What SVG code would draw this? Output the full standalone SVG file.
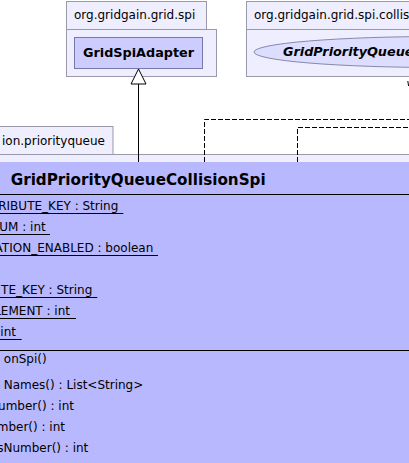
<svg xmlns="http://www.w3.org/2000/svg" width="409" height="463" viewBox="0 0 409 463">
<style>
  .pkg { fill: #eeeeff; stroke: #9999aa; stroke-width: 1; }
  .cls { fill: #ccccff; stroke: #7777aa; stroke-width: 1; }
  .main { fill: #b8b8ff; stroke: none; }
  .t { font-family: "DejaVu Sans", sans-serif; font-size: 12px; fill: #000; }
  .b { font-family: "DejaVu Sans", sans-serif; font-weight: bold; fill: #000; }
  .sep { stroke: #000; stroke-width: 1; }
  .ul { stroke: #000; stroke-width: 1; }
  .edge { stroke: #000; stroke-width: 1; fill: none; }
  .dash { stroke: #000; stroke-width: 1; fill: none; stroke-dasharray: 5,2; }
</style>
<rect x="0" y="0" width="409" height="463" fill="#ffffff"/>

<g id="pkg-org-gridgain-grid-spi">
  <rect class="pkg" x="66.5" y="1.5" width="140" height="28"/>
  <rect class="pkg" x="66.5" y="29.5" width="150" height="47"/>
  <text class="t" x="74" y="19">org.gridgain.grid.spi</text>
</g>

<g id="GridSpiAdapter">
  <rect class="cls" x="74.5" y="37.5" width="128" height="31"/>
  <text class="b" x="138.5" y="57" font-size="12.8" text-anchor="middle">GridSpiAdapter</text>
</g>

<g id="pkg-org-gridgain-grid-spi-collision">
  <rect class="pkg" x="246.5" y="1.5" width="200" height="28"/>
  <rect class="pkg" x="246.5" y="29.5" width="200" height="47"/>
  <text class="t" x="254" y="19">org.gridgain.grid.spi.collis</text>
</g>

<g id="GridPriorityQueueCollisionSpiMBean">
  <ellipse cx="440" cy="52" rx="186" ry="15.5" fill="#ddddff" stroke="#8888aa" stroke-width="1"/>
  <text class="b" x="283" y="56" font-size="12.8" font-style="italic">GridPriorityQueue</text>
</g>

<g id="pkg-org-gridgain-grid-spi-collision-priorityqueue">
  <rect class="pkg" x="-10" y="126.5" width="123" height="28"/>
  <rect class="pkg" x="-10" y="154.5" width="430" height="320"/>
  <text class="t" x="105" y="145" text-anchor="end">ion.priorityqueue</text>
</g>

<g id="connectors">
  <line class="edge" x1="138.5" y1="84" x2="138.5" y2="162"/>
  <polygon points="138.5,69 131,84 146,84" fill="#ffffff" stroke="#000" stroke-width="1"/>
  <polyline class="dash" points="204.5,162 204.5,119.5 409,119.5"/>
  <polyline class="dash" points="297.5,162 297.5,127.5 409,127.5"/>
  <line class="edge" x1="407.8" y1="81" x2="408.6" y2="86"/>
</g>

<g id="GridPriorityQueueCollisionSpi">
  <rect class="main" x="-10" y="162" width="430" height="310"/>
  <text class="b" x="10.7" y="185" font-size="15.2">GridPriorityQueueCollisionSpi</text>
  <line class="sep" x1="-10" y1="194.5" x2="420" y2="194.5"/>

  <text class="t" x="118.3" y="209.5" text-anchor="end">RIBUTE_KEY : String</text>
  <line class="ul" x1="-10" y1="213.5" x2="123.3" y2="213.5"/>
  <text class="t" x="45.7" y="230.5" text-anchor="end">UM : int</text>
  <line class="ul" x1="-10" y1="234.5" x2="50" y2="234.5"/>
  <text class="t" x="153.3" y="251.5" text-anchor="end">ATION_ENABLED : boolean</text>
  <line class="ul" x1="-10" y1="255.5" x2="158" y2="255.5"/>
  <text class="t" x="92.3" y="294.3" text-anchor="end">TE_KEY : String</text>
  <line class="ul" x1="-10" y1="297.5" x2="97.3" y2="297.5"/>
  <text class="t" x="70" y="315.3" text-anchor="end">LEMENT : int</text>
  <line class="ul" x1="-10" y1="318.5" x2="76" y2="318.5"/>
  <text class="t" x="16" y="336.3" text-anchor="end">int</text>
  <line class="ul" x1="-10" y1="339.5" x2="21.7" y2="339.5"/>

  <line class="sep" x1="-10" y1="350.5" x2="420" y2="350.5"/>

  <text class="t" x="46.7" y="362.7" text-anchor="end">onSpi()</text>
  <text class="t" x="143.3" y="388.5" text-anchor="end">Names() : List&lt;String&gt;</text>
  <text class="t" x="74" y="410" text-anchor="end">umber() : int</text>
  <text class="t" x="65" y="431" text-anchor="end">mber() : int</text>
  <text class="t" x="88.3" y="452" text-anchor="end">sNumber() : int</text>
</g>
</svg>
